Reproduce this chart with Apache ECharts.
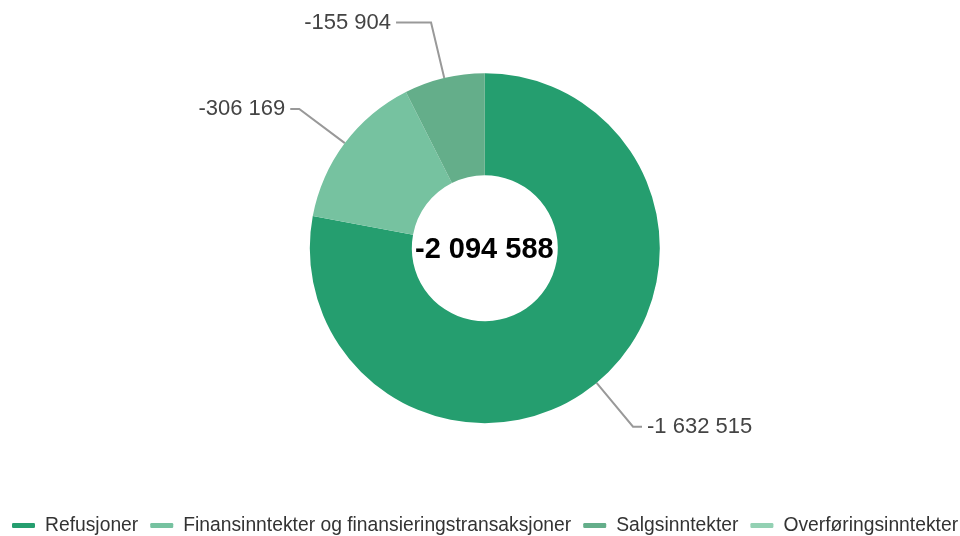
<!DOCTYPE html>
<html lang="no">
<head>
<meta charset="UTF-8">
<title>Inntekter</title>
<script src="https://cdn.jsdelivr.net/npm/echarts@6/dist/echarts.min.js"></script>
<style>
  html, body { margin: 0; padding: 0; background: #fff; }
  #main { width: 960px; height: 536px; }
</style>
</head>
<body>
<div id="main"></div>
<script type="text/javascript">
// data
var categories = ['Refusjoner', 'Finansinntekter og finansieringstransaksjoner', 'Salgsinntekter', 'Overføringsinntekter'];
var values = [-1632515, -306169, -155904, 0];
var colors = ['#259e6f', '#76c2a0', '#64ae8a', '#93d1b3'];

function fmt(v) {
  var s = Math.abs(v).toString().replace(/\B(?=(\d{3})+(?!\d))/g, ' ');
  return (v < 0 ? '-' : '') + s;
}

var total = values.reduce(function (a, b) { return a + b; }, 0);

var pieData = categories.map(function (name, i) {
  var item = { name: name, value: Math.abs(values[i]), raw: values[i] };
  if (values[i] === 0) {
    // tom sektor: ingen etikett
    item.label = { show: false };
    item.labelLine = { show: false };
  }
  return item;
});
// den lille sektoren øverst har lengre vannrett strek
pieData[2].labelLine = { length2: 35 };

var myChart = echarts.init(document.getElementById('main'));
var option = {
  color: colors,
  textStyle: { fontFamily: 'Liberation Sans, Arial, sans-serif' },
  title: {
    text: fmt(total),
    left: 410,
    top: 230,
    textStyle: { fontSize: 29, fontWeight: 'bold', color: '#000', fontFamily: 'Liberation Sans, Arial, sans-serif' }
  },
  legend: {
    bottom: -4,
    left: 7,
    width: 958,
    icon: 'roundRect',
    itemWidth: 23,
    itemHeight: 5,
    itemGap: 12,
    textStyle: { fontSize: 19.3, color: '#333', padding: [0, 0, 0, 5] },
    data: categories
  },
  series: [{
    type: 'pie',
    center: ['50.5%', '46.3%'],
    radius: [73, 175],
    startAngle: 90,
    clockwise: true,
    avoidLabelOverlap: true,
    silent: true,
    data: pieData,
    label: {
      show: true,
      fontSize: 22,
      color: '#444',
      formatter: function (p) { return fmt(p.data.raw); }
    },
    labelLine: {
      show: true,
      length: 57,
      length2: 9,
      lineStyle: { color: '#999', width: 2 }
    },
    itemStyle: { borderWidth: 0 }
  }]
};
myChart.setOption(option);
</script>
</body>
</html>
